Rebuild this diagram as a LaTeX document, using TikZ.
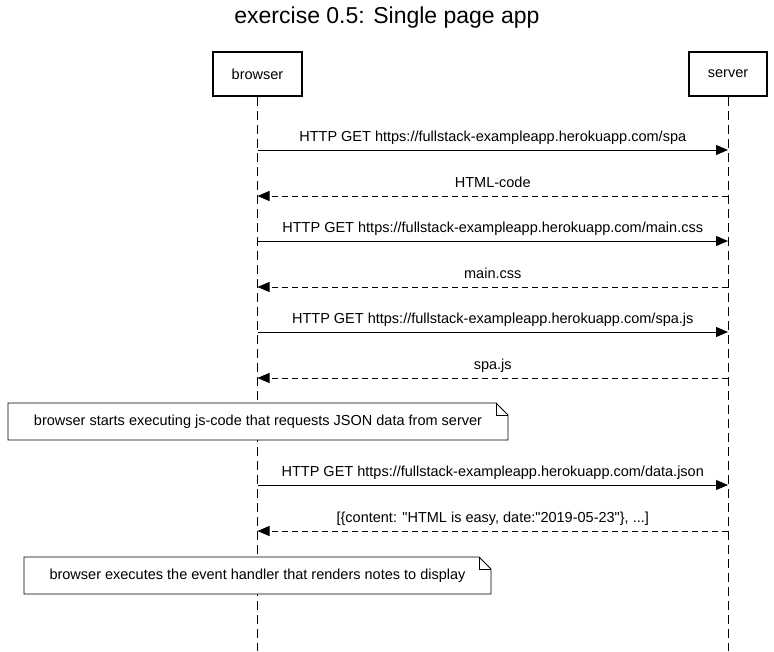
\documentclass[tikz,border=0pt]{standalone}
\usepackage{fontspec}
\setmainfont{Liberation Sans}[Ligatures=TeXOff]
\usetikzlibrary{arrows.meta}
\begin{document}
\begin{tikzpicture}[x=1pt,y=-1pt,
  actor/.style={draw,line width=2pt,minimum width=89pt,minimum height=44pt,inner sep=0pt,font=\fontsize{14.5}{17}\selectfont},
  lifeline/.style={line width=0.9pt,dash pattern=on 9pt off 5pt},
  req/.style={line width=0.9pt,-{Triangle[length=12pt,width=10pt]}},
  resp/.style={line width=0.9pt,dash pattern=on 6pt off 4pt,-{Triangle[length=12pt,width=10pt]}},
  lbl/.style={font=\fontsize{14.5}{17}\selectfont,inner sep=0pt,text height=10.5pt,text depth=3pt,yshift=12.5pt},
  notetext/.style={font=\fontsize{14.5}{17}\selectfont,inner sep=0pt,text height=10.5pt,text depth=3pt}
]
\useasboundingbox (0,0) rectangle (774,651);
\node[font=\fontsize{23}{26}\selectfont] (title) at (387,18) {exercise 0.5: Single page app};
\node[actor] (browser) at (257.5,74) {browser};
\node[actor,minimum width=78pt] (server) at (728,74) {server};
\coordinate (bend) at (257.5,651);
\coordinate (send) at (728,651);
\draw[lifeline] (browser.south) -- (bend);
\draw[lifeline] (server.south) -- (send);

% messages
\foreach \i/\y in {1/150,2/196,3/241,4/287,5/332,6/378,7/485,8/531}{
  \coordinate (b\i) at (257.5,\y);
  \coordinate (s\i) at (728,\y);
}
\draw[req] (b1) -- node[lbl] (m1) {HTTP GET https://fullstack-exampleapp.herokuapp.com/spa} (s1);
\draw[resp] (s2) -- node[lbl] (m2) {HTML-code} (b2);
\draw[req] (b3) -- node[lbl] (m3) {HTTP GET https://fullstack-exampleapp.herokuapp.com/main.css} (s3);
\draw[resp] (s4) -- node[lbl] (m4) {main.css} (b4);
\draw[req] (b5) -- node[lbl] (m5) {HTTP GET https://fullstack-exampleapp.herokuapp.com/spa.js} (s5);
\draw[resp] (s6) -- node[lbl] (m6) {spa.js} (b6);
\draw[req] (b7) -- node[lbl] (m7) {HTTP GET https://fullstack-exampleapp.herokuapp.com/data.json} (s7);
\draw[resp] (s8) -- node[lbl] (m8) {[\{content: "HTML is easy, date:"2019-05-23"\}, ...]} (b8);

% notes
\draw[fill=white,line width=0.9pt] (8,403) -- (496,403) -- (508,415) -- (508,440) -- (8,440) -- cycle;
\draw[line width=0.9pt] (496,403) -- (496,415) -- (508,415);
\node[notetext] (n1) at (258,421.5) {browser starts executing js-code that requests JSON data from server};

\draw[fill=white,line width=0.9pt] (24,557) -- (479,557) -- (491,569) -- (491,594) -- (24,594) -- cycle;
\draw[line width=0.9pt] (479,557) -- (479,569) -- (491,569);
\node[notetext] (n2) at (257.5,575.5) {browser executes the event handler that renders notes to display};
\end{tikzpicture}
\end{document}
